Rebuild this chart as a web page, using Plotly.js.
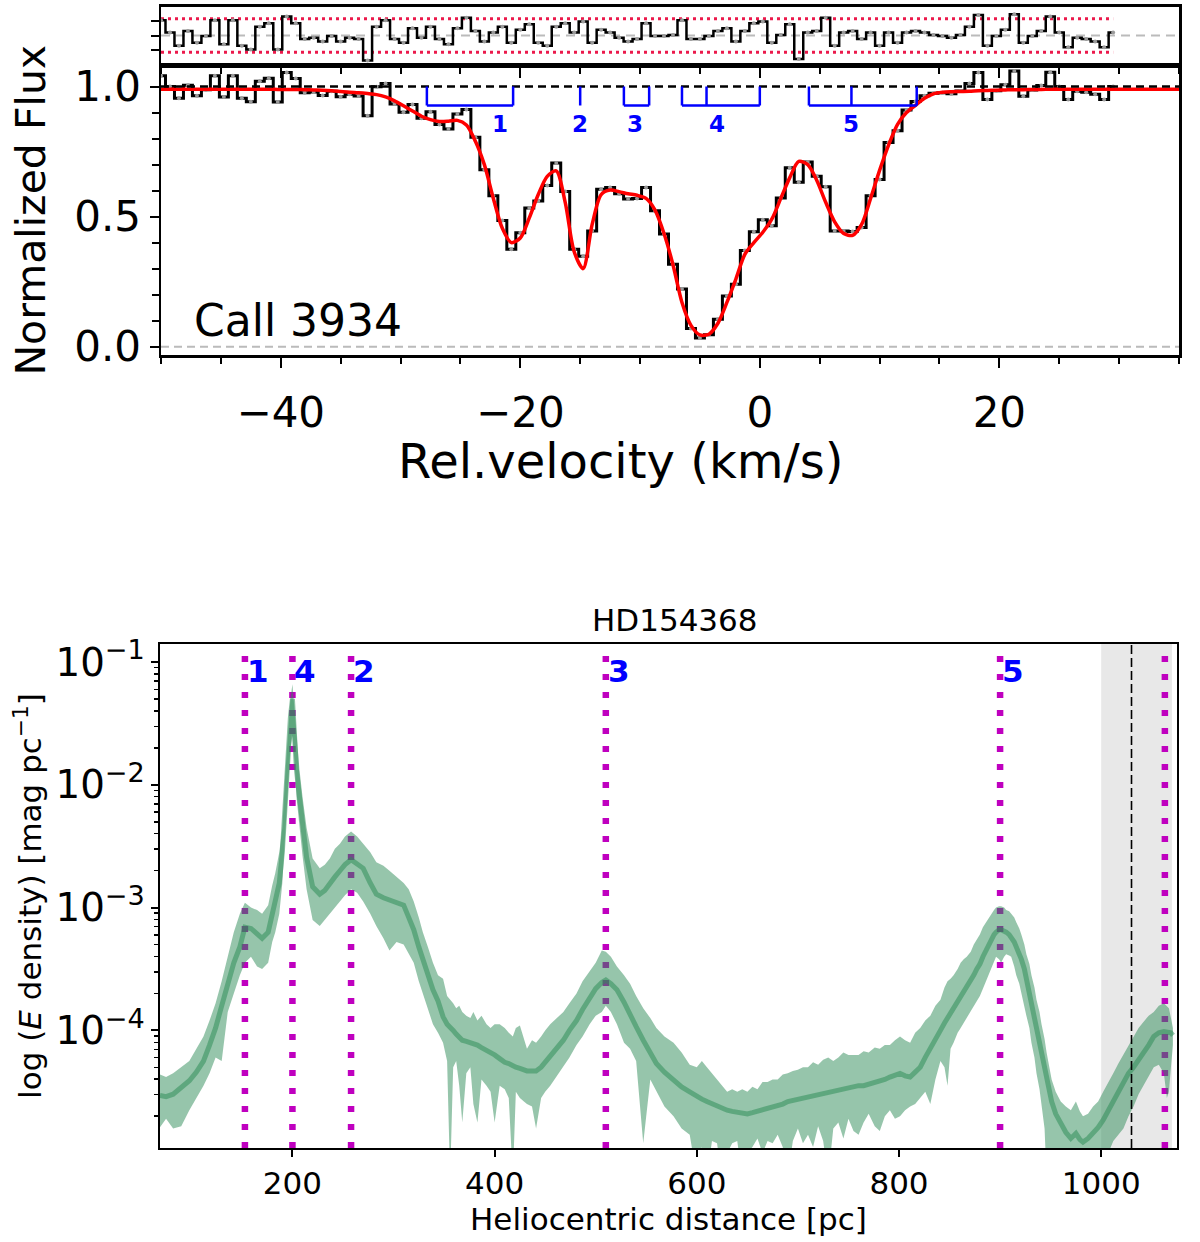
<!DOCTYPE html>
<html><head><meta charset="utf-8">
<script src="https://cdn.plot.ly/plotly-3.0.1.min.js"></script>
<style>html,body{margin:0;padding:0;background:#fff}</style>
</head><body><div id="chart" style="width:1200px;height:1242px"></div>
<script>
// ---------- Top panel: Ca II 3934 profile ----------
const velocity = [-50.00,-49.25,-48.50,-47.75,-47.00,-46.25,-45.50,-44.75,-44.00,-43.25,
-42.50,-41.75,-41.00,-40.25,-39.50,-38.75,-38.00,-37.25,-36.50,-35.75,
-35.00,-34.25,-33.50,-32.75,-32.00,-31.25,-30.50,-29.75,-29.00,-28.25,
-27.50,-26.75,-26.00,-25.25,-24.50,-23.75,-23.00,-22.25,-21.50,-20.75,
-20.00,-19.25,-18.50,-17.75,-17.00,-16.25,-15.50,-14.75,-14.00,-13.25,
-12.50,-11.75,-11.00,-10.25,-9.50,-8.75,-8.00,-7.25,-6.50,-5.75,
-5.00,-4.25,-3.50,-2.75,-2.00,-1.25,-0.50,0.25,1.00,1.75,
2.50,3.25,4.00,4.75,5.50,6.25,7.00,7.75,8.50,9.25,
10.00,10.75,11.50,12.25,13.00,13.75,14.50,15.25,16.00,16.75,
17.50,18.25,19.00,19.75,20.50,21.25,22.00,22.75,23.50,24.25,
25.00,25.75,26.50,27.25,28.00,28.75,29.50];

const flux = [1.042,1.000,0.955,1.005,0.965,0.988,1.042,0.960,1.042,0.955,
0.942,1.020,1.032,0.941,1.054,1.031,0.976,0.979,0.966,0.982,
0.961,0.970,0.964,0.888,0.999,1.012,0.933,0.901,0.931,0.878,
0.903,0.854,0.837,0.895,0.912,0.805,0.680,0.580,0.485,0.375,
0.438,0.533,0.560,0.620,0.706,0.597,0.375,0.348,0.445,0.605,
0.612,0.588,0.568,0.570,0.612,0.523,0.433,0.317,0.222,0.070,
0.033,0.046,0.105,0.195,0.240,0.370,0.442,0.488,0.465,0.572,
0.688,0.632,0.710,0.655,0.615,0.445,0.445,0.443,0.458,0.580,
0.643,0.785,0.830,0.910,0.943,0.965,0.974,0.976,0.972,0.983,
1.012,1.054,0.950,0.984,1.007,1.060,0.963,0.987,1.004,1.055,
1.000,0.950,0.982,0.978,0.970,0.950,1.000];

const residual = [0.052,0.010,-0.035,0.015,-0.025,-0.002,0.052,-0.030,0.052,-0.035,
-0.048,0.030,0.042,-0.048,0.065,0.042,-0.012,-0.008,-0.020,-0.002,
-0.020,-0.008,-0.012,-0.085,0.030,0.052,-0.012,-0.025,0.025,-0.008,
0.030,-0.012,-0.030,0.025,0.060,0.015,-0.020,0.010,0.030,-0.025,
0.020,0.038,-0.025,-0.035,0.030,0.042,0.010,0.048,-0.025,0.020,
0.010,-0.008,-0.020,-0.012,0.042,-0.002,-0.002,0.002,0.052,-0.012,
-0.012,-0.002,0.015,0.025,-0.020,0.015,0.042,0.048,-0.025,0.002,
0.038,-0.080,0.010,0.015,0.060,-0.035,0.010,0.015,-0.012,0.010,
-0.035,0.010,-0.025,0.010,0.015,0.010,0.002,-0.002,-0.008,0.002,
0.030,0.070,-0.035,-0.002,0.020,0.072,-0.025,-0.002,0.015,0.065,
0.010,-0.040,-0.008,-0.012,-0.020,-0.040,0.010];

const modelVelocity = velocity.concat([30.25,31.50,33.00,35.00]);
const modelFlux = [0.990,0.990,0.990,0.990,0.990,0.990,0.990,0.990,0.990,0.990,
0.990,0.990,0.990,0.989,0.989,0.989,0.988,0.987,0.986,0.984,
0.981,0.978,0.976,0.973,0.969,0.960,0.945,0.926,0.906,0.886,
0.873,0.866,0.867,0.870,0.852,0.790,0.700,0.570,0.455,0.400,
0.418,0.495,0.585,0.655,0.676,0.555,0.365,0.300,0.470,0.585,
0.602,0.596,0.588,0.582,0.570,0.525,0.435,0.315,0.170,0.082,
0.045,0.048,0.090,0.170,0.260,0.355,0.400,0.440,0.490,0.570,
0.650,0.712,0.700,0.640,0.555,0.480,0.435,0.428,0.470,0.570,
0.678,0.775,0.855,0.900,0.928,0.955,0.972,0.978,0.980,0.981,
0.982,0.984,0.985,0.986,0.987,0.988,0.988,0.989,0.989,0.990,
0.990,0.990,0.990,0.990,0.990,0.990,0.990,
0.990,0.990,0.990,0.990];

const velocityRange = [-50, 35];
const continuumLevel = 1.0;
const zeroLevel = 0.0;
const residualLimit = 0.057;
const residualDataEnd = 29.5;

const componentNames = ['1','2','3','4','5'];
const componentTicks = [[-27.8,-20.6],[-15.0],[-11.35,-9.24],[-6.5,-4.45,0.0],[4.1,7.65,13.1]];
const componentLabelVelocity = [-21.7,-15.0,-10.4,-3.6,7.65];
const bracketTop = 1.0, bracketBottom = 0.927, componentLabelFlux = 0.855;

// ---------- Bottom panel: extinction density towards HD154368 ----------
const distance = [69,75,82,90,98,105,112,118,124,130,
136,142,148,153,159,165,170,176,180,183,
187,190,193,196,198,200,202,204,207,210,
214,220,227,232,237,242,247,252,258,264,
270,277,283,290,296,303,310,315,320,325,
329,334,339,344,349,353,356,359,362,365,
368,372,376,379,383,387,392,396,400,405,
410,414,418,421,425,429,432,437,441,446,
450,455,461,468,474,481,487,494,500,506,
510,515,521,528,534,540,547,554,560,568,
577,585,593,600,605,610,615,620,625,630,
635,640,645,650,655,660,665,670,675,680,
685,690,695,700,705,710,715,720,725,730,
735,740,745,750,755,760,765,770,776,781,
786,791,796,801,806,811,816,821,826,831,
836,841,845,848,851,854,858,861,864,867,
871,874,877,880,883,886,889,891,894,896,
899,901,904,906,909,911,914,916,919,921,
924,926,929,931,934,936,939,941,944,946,
949,951,955,960,965,970,975,979,982,987,
992,997,1002,1007,1012,1017,1022,1027,1032,1037,
1042,1047,1052,1057,1062,1065,1067,1069,1071];

const logMedian = [-4.53,-4.54,-4.52,-4.47,-4.41,-4.34,-4.25,-4.12,-3.98,-3.80,
-3.62,-3.45,-3.32,-3.16,-3.17,-3.22,-3.25,-3.20,-3.05,-2.95,
-2.80,-2.55,-2.10,-1.69,-1.45,-1.30,-1.55,-1.88,-2.10,-2.32,
-2.59,-2.83,-2.89,-2.86,-2.80,-2.75,-2.70,-2.65,-2.61,-2.64,
-2.68,-2.80,-2.89,-2.92,-2.94,-2.96,-2.98,-3.08,-3.18,-3.32,
-3.43,-3.55,-3.67,-3.76,-3.89,-3.95,-3.97,-4.00,-4.03,-4.06,
-4.08,-4.09,-4.10,-4.11,-4.12,-4.14,-4.16,-4.18,-4.20,-4.23,
-4.26,-4.27,-4.29,-4.30,-4.31,-4.32,-4.33,-4.33,-4.33,-4.30,
-4.26,-4.22,-4.15,-4.08,-4.00,-3.92,-3.83,-3.73,-3.66,-3.61,
-3.59,-3.62,-3.67,-3.77,-3.86,-3.97,-4.08,-4.18,-4.27,-4.34,
-4.41,-4.46,-4.50,-4.54,-4.56,-4.58,-4.60,-4.62,-4.64,-4.65,
-4.66,-4.67,-4.68,-4.68,-4.67,-4.66,-4.65,-4.64,-4.62,-4.61,
-4.60,-4.58,-4.57,-4.56,-4.55,-4.54,-4.53,-4.52,-4.51,-4.50,
-4.49,-4.48,-4.47,-4.46,-4.46,-4.45,-4.45,-4.44,-4.43,-4.42,
-4.40,-4.38,-4.36,-4.35,-4.37,-4.38,-4.34,-4.30,-4.22,-4.14,
-4.07,-4.00,-3.94,-3.90,-3.85,-3.81,-3.77,-3.73,-3.69,-3.65,
-3.60,-3.55,-3.50,-3.46,-3.40,-3.35,-3.30,-3.26,-3.22,-3.20,
-3.18,-3.18,-3.19,-3.20,-3.22,-3.24,-3.28,-3.32,-3.37,-3.42,
-3.50,-3.58,-3.67,-3.76,-3.87,-3.98,-4.08,-4.18,-4.29,-4.40,
-4.50,-4.58,-4.68,-4.76,-4.83,-4.88,-4.84,-4.89,-4.91,-4.88,
-4.84,-4.79,-4.73,-4.65,-4.57,-4.49,-4.41,-4.35,-4.30,-4.24,
-4.19,-4.12,-4.05,-4.02,-4.01,-4.01,-4.01,-4.02,-4.04];

const logUpper = [-4.36,-4.38,-4.35,-4.30,-4.25,-4.15,-4.05,-3.92,-3.78,-3.60,
-3.40,-3.20,-3.05,-2.96,-3.00,-3.02,-3.05,-2.98,-2.82,-2.72,
-2.55,-2.35,-1.90,-1.50,-1.30,-1.18,-1.38,-1.65,-1.88,-2.10,
-2.35,-2.60,-2.68,-2.65,-2.60,-2.52,-2.48,-2.42,-2.38,-2.42,
-2.48,-2.55,-2.63,-2.66,-2.70,-2.75,-2.80,-2.85,-2.95,-3.08,
-3.20,-3.32,-3.45,-3.55,-3.58,-3.72,-3.75,-3.78,-3.82,-3.80,
-3.85,-3.88,-3.90,-3.85,-3.92,-3.88,-3.95,-3.98,-3.95,-3.95,
-3.98,-4.02,-4.05,-3.98,-3.96,-4.08,-4.15,-4.08,-4.10,-4.05,
-4.00,-3.95,-3.90,-3.85,-3.78,-3.70,-3.60,-3.52,-3.45,-3.35,
-3.36,-3.40,-3.48,-3.55,-3.62,-3.72,-3.82,-3.90,-3.98,-4.05,
-4.10,-4.18,-4.28,-4.30,-4.25,-4.30,-4.35,-4.40,-4.45,-4.50,
-4.48,-4.50,-4.48,-4.50,-4.46,-4.48,-4.42,-4.42,-4.40,-4.40,
-4.36,-4.35,-4.33,-4.32,-4.30,-4.30,-4.26,-4.28,-4.24,-4.22,
-4.25,-4.22,-4.18,-4.20,-4.20,-4.20,-4.17,-4.18,-4.14,-4.15,
-4.12,-4.12,-4.08,-4.05,-4.08,-4.10,-4.02,-3.98,-3.92,-3.88,
-3.80,-3.75,-3.65,-3.60,-3.58,-3.55,-3.50,-3.45,-3.42,-3.40,
-3.36,-3.30,-3.26,-3.22,-3.16,-3.12,-3.08,-3.05,-3.02,-3.00,
-2.99,-2.99,-3.00,-3.02,-3.03,-3.05,-3.08,-3.12,-3.17,-3.22,
-3.30,-3.38,-3.46,-3.55,-3.65,-3.75,-3.85,-3.95,-4.07,-4.18,
-4.30,-4.40,-4.50,-4.58,-4.62,-4.65,-4.58,-4.66,-4.70,-4.68,
-4.62,-4.58,-4.50,-4.43,-4.35,-4.27,-4.20,-4.12,-4.05,-3.98,
-3.93,-3.88,-3.85,-3.80,-3.78,-3.80,-3.82,-3.90,-3.98];

const logLower = [-4.79,-4.72,-4.80,-4.78,-4.65,-4.55,-4.45,-4.35,-4.22,-4.25,
-3.85,-3.70,-3.55,-3.45,-3.40,-3.48,-3.50,-3.45,-3.28,-3.20,
-3.05,-2.80,-2.40,-1.95,-1.70,-1.60,-1.80,-2.10,-2.35,-2.58,
-2.85,-3.10,-3.15,-3.10,-3.05,-3.00,-2.95,-2.90,-2.85,-2.88,
-2.95,-3.05,-3.15,-3.25,-3.35,-3.28,-3.30,-3.38,-3.45,-3.60,
-3.70,-3.82,-3.95,-4.02,-4.10,-4.25,-5.20,-4.30,-4.25,-4.45,
-4.75,-4.35,-4.30,-4.60,-4.75,-4.40,-4.45,-4.50,-4.75,-4.45,
-4.48,-4.55,-5.20,-4.50,-4.55,-4.58,-4.60,-4.62,-4.80,-4.55,
-4.50,-4.45,-4.38,-4.30,-4.22,-4.12,-4.05,-3.95,-3.88,-3.85,
-3.80,-3.85,-3.95,-4.10,-4.15,-4.25,-4.92,-4.40,-4.50,-4.62,
-4.70,-4.80,-4.85,-5.20,-4.95,-5.20,-4.90,-4.92,-5.20,-5.00,
-4.92,-4.90,-5.20,-5.00,-4.95,-4.88,-5.00,-4.90,-4.92,-4.85,
-4.95,-5.20,-4.90,-4.80,-4.92,-4.85,-4.95,-4.78,-4.90,-5.20,
-4.80,-4.75,-4.88,-4.72,-4.82,-4.85,-4.75,-4.68,-4.78,-4.82,
-4.70,-4.65,-4.72,-4.70,-4.65,-4.62,-4.60,-4.55,-4.50,-4.60,
-4.40,-4.25,-4.30,-4.45,-4.15,-4.10,-4.02,-3.98,-3.94,-3.90,
-3.85,-3.80,-3.76,-3.72,-3.66,-3.60,-3.55,-3.50,-3.45,-3.40,
-3.42,-3.45,-3.40,-3.38,-3.39,-3.40,-3.48,-3.55,-3.62,-3.70,
-3.80,-3.88,-3.98,-4.10,-4.22,-4.35,-4.48,-4.60,-4.80,-5.20,
-5.20,-5.20,-5.20,-5.20,-5.20,-5.20,-5.20,-5.20,-5.20,-5.20,
-5.20,-5.20,-5.20,-5.00,-4.90,-4.85,-4.80,-4.70,-4.62,-4.52,
-4.45,-4.38,-4.30,-4.28,-4.35,-4.55,-4.50,-4.30,-4.12];

const cloudNames = ['1','4','2','3','5'];
const cloudDistance = [153,200,258,510,900];
const extraMarkerDistance = 1063;
const starDistance = 1030;
const starDistanceBand = [1000,1070];
const distanceRange = [69,1075];
const logEnergyRange = [-4.958,-0.853];

// ---------- build ----------
const toLin = a => a.map(v => Math.pow(10, v));

const bx = [], by = [];
componentTicks.forEach(t => {
  t.forEach(v => { bx.push(v, v, null); by.push(bracketTop, bracketBottom, null); });
  if (t.length > 1) { bx.push(Math.min(...t), Math.max(...t), null); by.push(bracketBottom, bracketBottom, null); }
});

const FONT = 'DejaVu Sans';
const traces = [
  {x: velocity, y: flux, xaxis:'x', yaxis:'y', mode:'lines+markers',
   line:{shape:'hvh', color:'black', width:3}, marker:{size:4, color:'#9a9a9a'}, hoverinfo:'skip'},
  {x: modelVelocity, y: modelFlux, xaxis:'x', yaxis:'y', mode:'lines',
   line:{shape:'spline', smoothing:0.8, color:'#ff0000', width:3.5}, hoverinfo:'skip'},
  {x: velocityRange, y: [continuumLevel, continuumLevel], xaxis:'x', yaxis:'y', mode:'lines',
   line:{color:'black', width:2.5, dash:'8px,5px'}, hoverinfo:'skip'},
  {x: bx, y: by, xaxis:'x', yaxis:'y', mode:'lines', line:{color:'#0000ff', width:2.5}, connectgaps:false, hoverinfo:'skip'},
  {x: velocity, y: residual, xaxis:'x2', yaxis:'y2', mode:'lines+markers',
   line:{shape:'hvh', color:'black', width:2.5}, marker:{size:4, color:'#9a9a9a'}, hoverinfo:'skip'},
  {x: distance, y: toLin(logUpper), xaxis:'x3', yaxis:'y3', mode:'lines', line:{width:0, color:'rgba(0,0,0,0)'}, hoverinfo:'skip'},
  {x: distance, y: toLin(logLower), xaxis:'x3', yaxis:'y3', mode:'lines', line:{width:0, color:'rgba(0,0,0,0)'},
   fill:'tonexty', fillcolor:'rgba(46,139,87,0.5)', hoverinfo:'skip'},
  {x: distance, y: toLin(logMedian), xaxis:'x3', yaxis:'y3', mode:'lines', line:{width:5, color:'rgba(46,139,87,0.53)'}, hoverinfo:'skip'}
];

const shapes = [
  {type:'line', xref:'x', yref:'y', x0:velocityRange[0], x1:velocityRange[1], y0:zeroLevel, y1:zeroLevel,
   line:{color:'#bbbbbb', width:2, dash:'8px,5px'}, layer:'below'},
  {type:'line', xref:'x2', yref:'y2', x0:velocityRange[0], x1:velocityRange[1], y0:0, y1:0,
   line:{color:'#bbbbbb', width:2, dash:'9px,6px'}, layer:'below'},
  {type:'line', xref:'x2', yref:'y2', x0:velocityRange[0], x1:residualDataEnd, y0:residualLimit, y1:residualLimit,
   line:{color:'rgb(235,25,75)', width:3, dash:'3px,4px'}, layer:'below'},
  {type:'line', xref:'x2', yref:'y2', x0:velocityRange[0], x1:residualDataEnd, y0:-residualLimit, y1:-residualLimit,
   line:{color:'rgb(235,25,75)', width:3, dash:'3px,4px'}, layer:'below'},
  {type:'rect', xref:'x3', yref:'y3 domain', x0:starDistanceBand[0], x1:starDistanceBand[1], y0:0, y1:1,
   fillcolor:'#e8e8e8', line:{width:0}, layer:'below'}
];
cloudDistance.concat([extraMarkerDistance]).forEach(d => shapes.push(
  {type:'line', xref:'x3', yref:'y3 domain', x0:d, x1:d, y0:0, y1:1,
   line:{color:'#bf00bf', width:6.5, dash:'6px,12px'}, layer:'below'}));
shapes.push({type:'line', xref:'x3', yref:'y3 domain', x0:starDistance, x1:starDistance, y0:0, y1:1,
   line:{color:'black', width:1.6, dash:'9px,4px'}, layer:'above'});

const annotations = [
  {text:'Call 3934', xref:'x', yref:'y', x:-47.4, y:0.102, xanchor:'left', yanchor:'middle', showarrow:false,
   font:{family:FONT, size:44, color:'black'}},
  {text:'Rel.velocity (km/s)', xref:'paper', yref:'paper', x:620/1200, y:1-461/1242, xanchor:'center', yanchor:'middle',
   showarrow:false, font:{family:FONT, size:48, color:'black'}},
  {text:'HD154368', xref:'paper', yref:'paper', x:675/1200, y:1-620/1242, xanchor:'center', yanchor:'middle',
   showarrow:false, font:{family:FONT, size:31, color:'black'}}
];
componentNames.forEach((n, i) => annotations.push({text:'<b>'+n+'</b>', xref:'x', yref:'y', x:componentLabelVelocity[i],
  y:componentLabelFlux, xanchor:'center', yanchor:'middle', showarrow:false, font:{family:FONT, size:23, color:'#0000ff'}}));
cloudNames.forEach((n, i) => annotations.push({text:'<b>'+n+'</b>', xref:'x3', yref:'paper', x:cloudDistance[i],
  y:1-671/1242, xanchor:'left', yanchor:'middle', showarrow:false, font:{family:FONT, size:31, color:'#0000ff'}}));

const xTop = [161/1200, 1179/1200];
const axBase = {showline:true, linecolor:'black', mirror:true, showgrid:false, zeroline:false, tickcolor:'black'};
const layout = {
  width:1200, height:1242, margin:{l:0, r:0, t:0, b:0}, showlegend:false,
  paper_bgcolor:'white', plot_bgcolor:'white', font:{family:FONT, color:'black'},
  xaxis: Object.assign({}, axBase, {domain:xTop, anchor:'y', range:velocityRange, tick0:0, dtick:20, ticks:'outside',
    ticklen:10, tickwidth:2, linewidth:2.5, tickfont:{size:42}, ticklabelstandoff:9,
    minor:{tick0:0, dtick:5, ticks:'outside', ticklen:6, tickwidth:2, tickcolor:'black', showgrid:false}}),
  yaxis: Object.assign({}, axBase, {domain:[1-355/1242, 1-65.5/1242], anchor:'x', range:[-0.032,1.081], tick0:0, dtick:0.5,
    tickformat:'.1f', ticks:'outside', ticklen:9, tickwidth:2, linewidth:2.5, tickfont:{size:42},
    minor:{tick0:0, dtick:0.1, ticks:'outside', ticklen:7, tickwidth:2, tickcolor:'black', showgrid:false},
    title:{text:'Normalized Flux', font:{size:41}, standoff:16}}),
  xaxis2: Object.assign({}, axBase, {domain:xTop, anchor:'y2', range:velocityRange, tick0:0, dtick:20, ticks:'outside',
    ticklen:10, tickwidth:2, linewidth:2.5, showticklabels:false,
    minor:{tick0:0, dtick:5, ticks:'outside', ticklen:6, tickwidth:2, tickcolor:'black', showgrid:false}}),
  yaxis2: Object.assign({}, axBase, {domain:[1-65.5/1242, 1-6.7/1242], anchor:'x2', range:[-0.102,0.098],
    tickvals:[-0.05,0,0.05], showticklabels:false, ticks:'outside', ticklen:8, tickwidth:2, linewidth:2.5}),
  xaxis3: Object.assign({}, axBase, {domain:[160/1200, 1177/1200], anchor:'y3', range:distanceRange, tick0:0, dtick:200,
    ticks:'outside', ticklen:7, tickwidth:2, linewidth:2, tickfont:{size:31}, ticklabelstandoff:0,
    title:{text:'Heliocentric distance [pc]', font:{size:31}, standoff:6}}),
  yaxis3: Object.assign({}, axBase, {domain:[1-1148/1242, 1-644/1242], anchor:'x3', type:'log', range:logEnergyRange,
    dtick:1, exponentformat:'power', ticks:'outside', ticklen:7, tickwidth:2, linewidth:2, tickfont:{size:31},
    minor:{dtick:'D1', ticks:'outside', ticklen:4, tickwidth:1.5, tickcolor:'black', showgrid:false},
    title:{text:'log (<i>E</i> density) [mag pc<sup>−1</sup>]', font:{size:31}, standoff:5}}),
  shapes: shapes, annotations: annotations
};
Plotly.newPlot('chart', traces, layout, {displayModeBar:false, staticPlot:true});
</script></body></html>
